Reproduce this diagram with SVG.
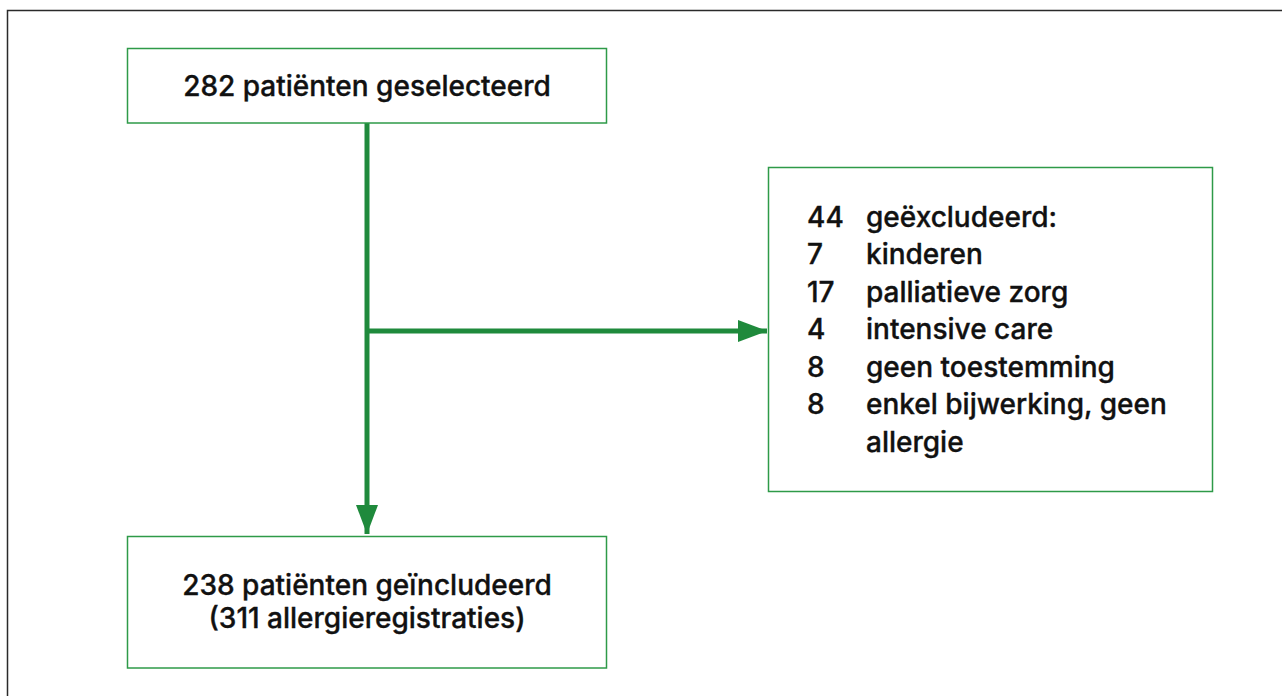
<svg xmlns="http://www.w3.org/2000/svg" width="1282" height="696" viewBox="0 0 1282 696">
<style>
.box{fill:#ffffff;stroke:#2e9a48;stroke-width:1.5}
.t{font-family:Inter,"Liberation Sans",Arial,sans-serif;font-weight:500;font-size:28px;fill:#111111;stroke:#111111;stroke-width:0.35}
.c{text-anchor:middle}
.conn{stroke:#1f8a3c;stroke-width:5;fill:none}
.frame{stroke:#2a2a2a;stroke-width:1.5;fill:none}
</style>
<defs>
<marker id="ah" markerUnits="userSpaceOnUse" markerWidth="30" markerHeight="22" refX="29" refY="11" orient="auto">
<path d="M0,0 L29,11 L0,22 Z" fill="#1f8a3c"/>
</marker>
</defs>
<rect width="1282" height="696" fill="#ffffff"/>
<path class="frame" d="M7.5,696 L7.5,10.5 L1282,10.5"/>
<g id="connectors">
<path class="conn" d="M367,123 L367,534" marker-end="url(#ah)"/>
<path class="conn" d="M367,331 L767,331" marker-end="url(#ah)"/>
</g>
<g id="node-selected">
<rect class="box" x="127.5" y="48.5" width="479" height="74.5"/>
<text class="t c" x="367" y="95.5">282 patiënten geselecteerd</text>
</g>
<g id="node-excluded">
<rect class="box" x="768.5" y="167.5" width="444" height="324"/>
<g class="t">
<text x="807" y="226.5">44</text><text x="866" y="226.5">geëxcludeerd:</text>
<text x="807" y="264">7</text><text x="866" y="264">kinderen</text>
<text x="807" y="301.5">17</text><text x="866" y="301.5">palliatieve zorg</text>
<text x="807" y="339">4</text><text x="866" y="339">intensive care</text>
<text x="807" y="376.5">8</text><text x="866" y="376.5">geen toestemming</text>
<text x="807" y="414">8</text><text x="866" y="414">enkel bijwerking, geen</text>
<text x="866" y="451.5">allergie</text>
</g>
</g>
<g id="node-included">
<rect class="box" x="127.5" y="536.5" width="479" height="131.5"/>
<text class="t c" x="367" y="594.5">238 patiënten geïncludeerd</text>
<text class="t c" x="367" y="628">(311 allergieregistraties)</text>
</g>
</svg>
